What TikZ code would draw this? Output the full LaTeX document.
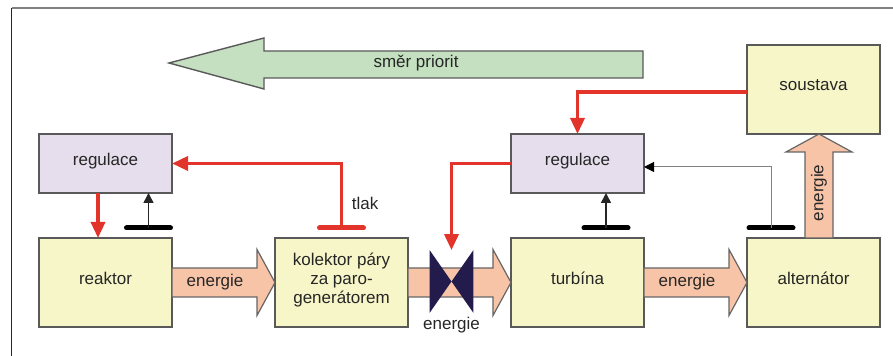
\documentclass[tikz,border=0pt]{standalone}
\usepackage{fontspec}
\setmainfont{Liberation Sans}
\usepackage{xcolor}
\usepackage{tikz}
\usetikzlibrary{arrows.meta,calc,positioning,shadows}

\definecolor{blokfill}{HTML}{F7F6C8}
\definecolor{regfill}{HTML}{E6DEEC}
\definecolor{prioritafill}{HTML}{C4E0C0}
\definecolor{tokfill}{HTML}{F8C4A8}
\definecolor{ridici}{HTML}{E3342B}
\definecolor{ventilfill}{HTML}{231B4B}

\tikzset{
  blok/.style={draw=black!65, line width=0.8pt, fill=blokfill, text=black!85,
    minimum width=66.5pt, minimum height=44.5pt, inner sep=1pt, outer sep=0pt,
    align=center, text depth=4.5pt,
    drop shadow={shadow xshift=0.6pt, shadow yshift=-0.6pt, opacity=0.35}},
  regblok/.style={blok, fill=regfill, minimum height=29.5pt, text depth=4pt},
  tok/.style={draw=black!60, line width=0.6pt, fill=tokfill},
  priorita/.style={draw=black!65, line width=0.7pt, fill=prioritafill},
  ridsig/.style={draw=ridici, line width=1.7pt, -{Triangle[length=8pt,width=7pt]}},
  merlo/.style={draw=black!85, line width=0.75pt, -{Triangle[length=5pt,width=5pt]}},
  tenky/.style={draw=black!50, line width=0.5pt, -{Triangle[length=5pt,width=5pt,black]}},
  cidlo/.style={line width=2.5pt, line cap=round},
  popis/.style={text=black!85, inner sep=1pt}
}

\begin{document}
\begin{tikzpicture}[x=0.5pt,y=0.5pt,font=\fontsize{8.5}{9.6}\selectfont]
  \useasboundingbox (0,0) rectangle (893,356);
  % ramecek
  \draw[black!50, line width=0.8pt] (11.5,348) -- (893,348);
  \draw[black!85, line width=0.8pt] (11.5,348) -- (11.5,0);

  % smer priorit
  \draw[priorita] (169,293) -- (264,318) -- (264,305) -- (643,305)
    -- (643,278) -- (264,278) -- (264,267) -- cycle;
  \node[popis] (smer) at (416,293) {směr priorit};

  % bloky
  \node[blok] (reaktor) at (105.5,73.5) {reaktor};
  \node[blok, right=51.5pt of reaktor] (kolektor) {kolektor páry\\za paro-\\generátorem};
  \node[blok, right=51.5pt of kolektor] (turbina) {turbína};
  \node[blok, right=51.5pt of turbina] (alternator) {alternátor};
  \node[blok, above=52pt of alternator] (soustava) {soustava};
  \node[regblok, above=22.5pt of reaktor] (regL) {regulace};
  \node[regblok, above=22.5pt of turbina] (regR) {regulace};

  % tok energie
  \foreach \a/\b in {reaktor/kolektor,kolektor/turbina,turbina/alternator}
    \draw[tok] ($(\a.east)+(0,14.5)$) -- ($(\b.west)+(-18,14.5)$) -- ++(0,18.5)
      -- (\b.west) -- ++(-18,-33) -- ++(0,18.5) -- ($(\a.east)+(0,-14.5)$) -- cycle;
  \draw[tok] ($(alternator.north)+(-8.5,0)$) -- ($(soustava.south)+(-8.5,-18)$)
    -- ++(-19,0) -- ($(soustava.south)+(5.5,0)$) -- ($(soustava.south)+(38.5,-18)$)
    -- ++(-19,0) -- ($(alternator.north)+(19.5,0)$) -- cycle;
  \node[popis] (en1) at ($(reaktor.east)+(43,0)$) {energie};
  \node[popis] (en3) at ($(turbina.east)+(43,0)$) {energie};
  \node[popis, rotate=90] (en4) at ($(alternator.north)+(5.5,45)$) {energie};

  % ventil
  \node[minimum width=21.5pt, minimum height=31pt, inner sep=0pt] (ventil)
    at ($(kolektor.east)+(43.5,1)$) {};
  \fill[ventilfill] (ventil.north west) -- (ventil.south west) -- (ventil.center) -- cycle;
  \fill[ventilfill] (ventil.north east) -- (ventil.south east) -- (ventil.center) -- cycle;
  \node[popis, below=1pt of ventil] (en2) {energie};

  % snimace
  \coordinate (tlakbar) at ($(kolektor.north)+(0,10)$);
  \coordinate (rbar) at ($(reaktor.north)+(43,10)$);
  \coordinate (tbar) at ($(turbina.north)+(28.5,10)$);
  \coordinate (abar) at ($(alternator.north)+(-42.5,10)$);
  \draw[cidlo, ridici] ($(tlakbar)+(-22,0)$) -- ($(tlakbar)+(22,0)$);
  \foreach \c in {rbar,tbar,abar}
    \draw[cidlo, black] ($(\c)+(-22,0)$) -- ($(\c)+(22,0)$);
  \node[popis, anchor=west] (tlak) at ($(tlakbar)+(8,25)$) {tlak};

  % regulacni vazby
  \draw[ridsig] (tlakbar) |- (regL.east);
  \draw[ridsig] ($(regL.south)+(-7.5,0)$) -- ($(reaktor.north)+(-7.5,0)$);
  \draw[ridsig] ($(soustava.west)+(0,-2.5)$) -| (regR.north);
  \draw[ridsig] (regR.west) -| (ventil.north);
  \draw[merlo] (rbar) -- (rbar |- regL.south);
  \draw[merlo] (tbar) -- (tbar |- regR.south);
  \draw[tenky] (abar) |- ($(regR.east)+(0,-3.5)$);
\end{tikzpicture}
\end{document}
